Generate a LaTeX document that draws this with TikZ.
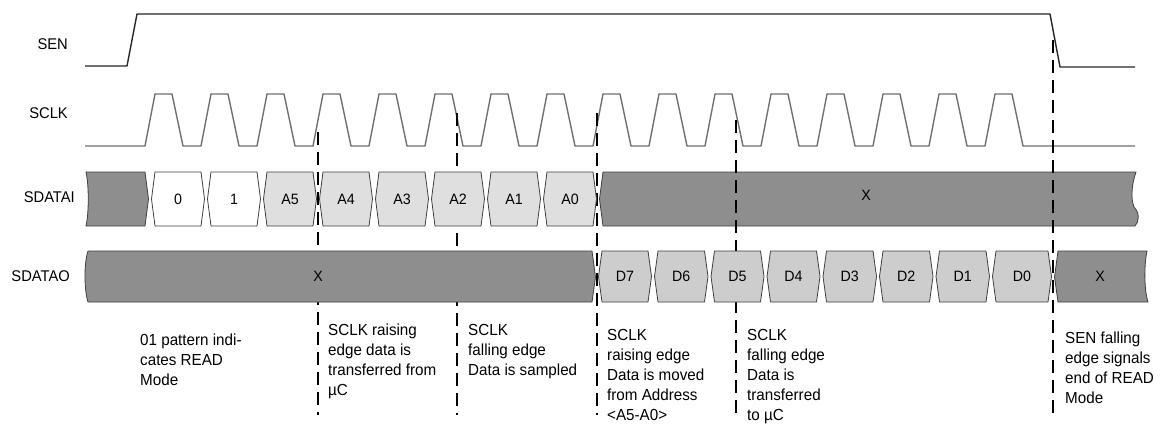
\documentclass[tikz,border=0pt]{standalone}
\usepackage{fontspec}
\setmainfont{Liberation Sans}[FakeStretch=0.95]
\definecolor{darkcell}{HTML}{8E8E8E}
\definecolor{acell}{HTML}{DFDFDF}
\definecolor{dcell}{HTML}{CDCDCD}
\definecolor{clkgray}{HTML}{707070}
\newcommand\buscell[7]{% name, fill, xl, xr, ytop, ybot, label
  \filldraw[cellline, fill=#2] (#3,{(#5+#6)/2}) -- ({#3+3.5},#5) -- ({#4-3.5},#5) -- (#4,{(#5+#6)/2}) -- ({#4-3.5},#6) -- ({#3+3.5},#6) -- cycle;
  \node[lbl] (#1) at ({(#3+#4)/2},{(#5+#6)/2}) {#7};}
\begin{document}
\begin{tikzpicture}[x=1pt,y=-1pt,
  wave/.style={line width=1.4pt, draw=clkgray, line join=round},
  senwave/.style={line width=1.4pt, draw=black!85, line join=round},
  cellline/.style={draw=black!75, line width=0.8pt, line join=round},
  guide/.style={draw=black, line width=1.2pt, dash pattern=on 13pt off 7pt},
  lbl/.style={font=\fontsize{15}{17}\selectfont, inner sep=0pt},
  sig/.style={font=\fontsize{15.5}{18}\selectfont, anchor=east, inner sep=0pt},
  note/.style={font=\fontsize{16}{20}\selectfont, align=left, anchor=north west, inner sep=0pt}]
\useasboundingbox[fill=white] (0,0) rectangle (1164,424);

% signal names
\node[sig] (lsen) at (68,44) {SEN};
\node[sig] (lsclk) at (68,113) {SCLK};
\node[sig] (lsdi) at (75,197) {SDATAI};
\node[sig] (lsdo) at (70,276) {SDATAO};

% SEN
\draw[senwave] (85,66) -- (127,66) -- (137,14) -- (1050,14) -- (1060,67) -- (1135,67);

% SCLK
\draw[wave] (85,146) \foreach \k in {0,...,15} { -- ({145+56*\k},146) -- ({155+56*\k},94) -- ({172+56*\k},94) -- ({183+56*\k},146) } -- (1135,146);

% SDATAI "X" region (guides show on top of it)
\filldraw[cellline, fill=darkcell] (599.5,199) -- (603,172) -- (1136,172) .. controls (1131,186) and (1131,200) .. (1134,207) .. controls (1140,213) and (1139,222) .. (1135,226) -- (603,226) -- cycle;
\node[lbl] (xi) at (866,195) {X};

% guide lines
\coordinate (g1t) at (318,132); \coordinate (g1b) at (318,415);
\coordinate (g2t) at (457,113); \coordinate (g2b) at (457,415);
\coordinate (g3t) at (597,113); \coordinate (g3b) at (597,415);
\coordinate (g4t) at (736,120); \coordinate (g4b) at (736,415);
\coordinate (g5t) at (1053,40); \coordinate (g5b) at (1053,415);
\draw[guide] (g1t) -- (g1b);
\draw[guide] (g2t) -- (g2b);
\draw[guide] (g3t) -- (g3b);
\draw[guide] (g4t) -- (g4b);
\draw[guide] (g5t) -- (g5b);

% SDATAI cells
\filldraw[cellline, fill=darkcell] (86,172) -- (145,172) -- (148.5,199) -- (145,226) -- (86,226) .. controls (89,213) and (89,185) .. (86,172) -- cycle;
\buscell{c0}{white}{151.5}{204.5}{172}{226}{0}
\buscell{c1}{white}{207.5}{260.5}{172}{226}{1}
\buscell{ca5}{acell}{263.5}{316.5}{172}{226}{A5}
\buscell{ca4}{acell}{319.5}{372.5}{172}{226}{A4}
\buscell{ca3}{acell}{375.5}{428.5}{172}{226}{A3}
\buscell{ca2}{acell}{431.5}{484.5}{172}{226}{A2}
\buscell{ca1}{acell}{487.5}{540.5}{172}{226}{A1}
\buscell{ca0}{acell}{543.5}{596.5}{172}{226}{A0}

% SDATAO cells
\filldraw[cellline, fill=darkcell] (88,251) -- (592,251) -- (595.5,277) -- (592,302) -- (88,302) .. controls (84,290) and (84,262) .. (88,251) -- cycle;
\node[lbl] (xo1) at (318,276) {X};
\buscell{d7}{dcell}{598.5}{651.5}{251}{302}{D7}
\buscell{d6}{dcell}{654.5}{708}{251}{302}{D6}
\buscell{d5}{dcell}{711}{764}{251}{302}{D5}
\buscell{d4}{dcell}{767}{820}{251}{302}{D4}
\buscell{d3}{dcell}{823}{876.5}{251}{302}{D3}
\buscell{d2}{dcell}{879.5}{933}{251}{302}{D2}
\buscell{d1}{dcell}{936}{989.5}{251}{302}{D1}
\buscell{d0}{dcell}{992.5}{1051.5}{251}{302}{D0}
\filldraw[cellline, fill=darkcell] (1054.5,277) -- (1058,251) -- (1147,251) .. controls (1144,265) and (1144,290) .. (1148,302) -- (1058,302) -- cycle;
\node[lbl] (xo2) at (1100,276) {X};

% annotations
\node[note] (n1) at (140,334) {01 pattern indi-\\cates READ\\Mode};
\node[note] (n2) at (328,324) {SCLK raising\\edge data is\\transferred from\\µC};
\node[note] (n3) at (468,324) {SCLK\\falling edge\\Data is sampled};
\node[note] (n4) at (607,329) {SCLK\\raising edge\\Data is moved\\from Address\\<A5-A0>};
\node[note] (n5) at (747,329) {SCLK\\falling edge\\Data is\\transferred\\to µC};
\node[note] (n6) at (1065,332) {SEN falling\\edge signals\\end of READ\\Mode};
\end{tikzpicture}
\end{document}
